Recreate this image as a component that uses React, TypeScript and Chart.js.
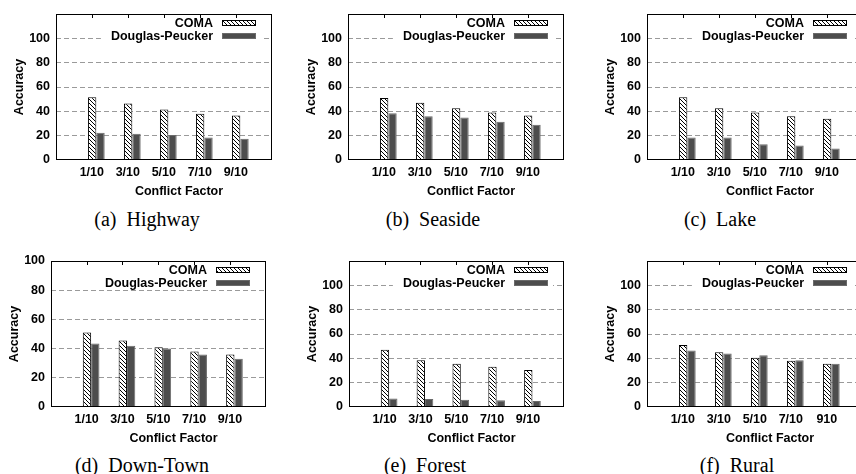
import React, { useEffect, useRef } from 'react';
import { Chart, registerables } from 'chart.js';
Chart.register(...registerables);

// ---------- data ----------
const seriesNames = ['COMA', 'Douglas-Peucker'];
const factorLabels = ['1/10', '3/10', '5/10', '7/10', '9/10'];
const ruralLabels = ['1/10', '3/10', '5/10', '7/10', '910'];
const yTicks = [0, 20, 40, 60, 80, 100];

const highwayComa = [51.5, 46.5, 41.5, 38, 36.5];
const highwayDP = [22.5, 21.5, 20.5, 18.5, 17.5];
const seasideComa = [51, 47, 42.5, 39, 36.5];
const seasideDP = [38.5, 36, 35, 31.5, 29];
const lakeComa = [51.5, 42.5, 39, 36, 34];
const lakeDP = [18.5, 18.5, 13, 12, 9.5];
const downtownComa = [51, 45.5, 41, 38, 36];
const downtownDP = [43.5, 42, 40, 36, 33];
const forestComa = [47, 38.5, 35.5, 33, 30.5];
const forestDP = [7, 6.5, 6, 5.5, 5];
const ruralComa = [51, 45, 40.5, 38, 35.5];
const ruralDP = [46.5, 44, 42.5, 38.5, 35.5];

const FAMILY = '"Liberation Sans", Arial, Helvetica, sans-serif';
const FS = 12.5;

type PanelDef = {
  caption: string;
  labels: string[];
  coma: number[];
  dp: number[];
  yMax: number;
  x1: number; x2: number; y1: number; y2: number;
  cx: number; cy: number;
};

const panels: PanelDef[] = [
  { caption: '(a)\u2002Highway', labels: factorLabels, coma: highwayComa, dp: highwayDP, yMax: 120, x1: 56, x2: 272, y1: 14, y2: 160, cx: 147, cy: 219 },
  { caption: '(b)\u2002Seaside', labels: factorLabels, coma: seasideComa, dp: seasideDP, yMax: 120, x1: 348, x2: 564, y1: 14, y2: 160, cx: 433, cy: 219 },
  { caption: '(c)\u2002Lake', labels: factorLabels, coma: lakeComa, dp: lakeDP, yMax: 120, x1: 647, x2: 863, y1: 14, y2: 160, cx: 720, cy: 219 },
  { caption: '(d)\u2002Down-Town', labels: factorLabels, coma: downtownComa, dp: downtownDP, yMax: 100, x1: 51, x2: 266, y1: 261, y2: 407, cx: 142, cy: 465 },
  { caption: '(e)\u2002Forest', labels: factorLabels, coma: forestComa, dp: forestDP, yMax: 120, x1: 349, x2: 564, y1: 261, y2: 407, cx: 425, cy: 465 },
  { caption: '(f)\u2002Rural', labels: ruralLabels, coma: ruralComa, dp: ruralDP, yMax: 120, x1: 647, x2: 863, y1: 261, y2: 407, cx: 737, cy: 465 },
];

const PAD_L = 50, PAD_T = 14, PAD_R = 10, PAD_B = 45;
const DP_FILL = '#4d4d4d';
const DP_BORDER = '#6a6a6a';

function makeHatch(): CanvasPattern | string {
  const s = 4;
  const c = document.createElement('canvas');
  c.width = s; c.height = s;
  const g = c.getContext('2d');
  if (!g) return '#fff';
  g.fillStyle = '#fff';
  g.fillRect(0, 0, s, s);
  g.strokeStyle = '#000';
  g.lineWidth = 1;
  for (const k of [-s, 0, s]) {
    g.beginPath();
    g.moveTo(k, 0);
    g.lineTo(k + s, s);
    g.stroke();
  }
  const p = g.createPattern(c, 'repeat');
  return p || '#fff';
}

function Panel({ def }: { def: PanelDef }) {
  const ref = useRef<HTMLCanvasElement | null>(null);
  const width = def.x2 - def.x1 + PAD_L + PAD_R;
  const height = def.y2 - def.y1 + PAD_T + PAD_B;

  useEffect(() => {
    if (!ref.current) return;
    const hatch = makeHatch();
    const font = { family: FAMILY, size: FS, weight: 'bold' as const };
    const labels = def.labels;

    const framePlugin = {
      id: 'frame',
      afterDraw(chart: any) {
        const { ctx, chartArea } = chart;
        const { left, right, top, bottom } = chartArea;
        const xs = chart.scales.x;
        ctx.save();
        ctx.font = `bold ${FS}px ${FAMILY}`;
        const dpW = ctx.measureText(seriesNames[1]).width;
        const textRight = right - 59;
        // legend background
        ctx.fillStyle = '#fff';
        const bl = textRight - dpW - 10;
        ctx.fillRect(bl, top + 1, right - 11 - bl, 27);
        // legend text
        ctx.fillStyle = '#000';
        ctx.textAlign = 'right';
        ctx.textBaseline = 'middle';
        const r1 = top + 9.5, r2 = top + 22.5;
        ctx.fillText(seriesNames[0], textRight, r1);
        ctx.fillText(seriesNames[1], textRight, r2);
        // samples
        const sx = right - 50, sw = 34, sh = 6;
        ctx.fillStyle = hatch as any;
        ctx.fillRect(sx, Math.round(r1 - 3.5), sw, sh);
        ctx.strokeStyle = '#000';
        ctx.lineWidth = 1;
        ctx.strokeRect(sx + 0.5, Math.round(r1 - 3.5) + 0.5, sw - 1, sh - 1);
        ctx.fillStyle = DP_FILL;
        ctx.fillRect(sx, Math.round(r2 - 3.5), sw, sh);
        ctx.strokeStyle = DP_BORDER;
        ctx.strokeRect(sx + 0.5, Math.round(r2 - 3.5) + 0.5, sw - 1, sh - 1);
        // frame
        ctx.strokeStyle = '#000';
        ctx.lineWidth = 1;
        ctx.strokeRect(left + 0.5, top + 0.5, right - left - 1, bottom - top - 1);
        // mirror ticks on top
        ctx.beginPath();
        labels.forEach((_, i) => {
          const x = Math.round(xs.getPixelForValue(i) - 4.5) + 0.5;
          ctx.moveTo(x, top);
          ctx.lineTo(x, top + 4);
        });
        ctx.stroke();
        // axis titles
        ctx.fillStyle = '#000';
        ctx.textAlign = 'center';
        ctx.textBaseline = 'middle';
        ctx.fillText('Conflict Factor', (left + right) / 2 + 15, bottom + 32);
        ctx.translate(left - 36.5, (top + bottom) / 2);
        ctx.rotate(-Math.PI / 2);
        ctx.fillText('Accuracy', 0, 0);
        ctx.restore();
      },
    };

    const chart = new Chart(ref.current, {
      type: 'bar',
      data: {
        datasets: [
          {
            label: seriesNames[0],
            data: def.coma.map((v, i) => ({ x: i, y: v })),
            backgroundColor: hatch as any,
            borderColor: '#000',
            borderWidth: 1,
            categoryPercentage: 0.465,
            barPercentage: 1,
          },
          {
            label: seriesNames[1],
            data: def.dp.map((v, i) => ({ x: i, y: v })),
            backgroundColor: DP_FILL,
            borderColor: DP_BORDER,
            borderWidth: 1,
            categoryPercentage: 0.465,
            barPercentage: 1,
          },
        ],
      },
      options: {
        animation: false,
        responsive: false,
        maintainAspectRatio: false,
        layout: { padding: { left: 0, top: PAD_T, right: PAD_R, bottom: 0 } },
        plugins: { legend: { display: false }, tooltip: { enabled: false } },
        scales: {
          x: {
            type: 'linear',
            offset: false,
            min: -1.12,
            max: 4.88,
            grid: { display: false, drawTicks: false, offset: false },
            border: { display: false },
            afterBuildTicks: (ax: any) => {
              ax.ticks = labels.map((_, i) => ({ value: i }));
            },
            afterFit: (s: any) => { s.height = PAD_B; },
            ticks: {
              callback: (v: any) => labels[v] ?? '',
              labelOffset: -4.5,
              padding: 5,
              maxRotation: 0,
              autoSkip: false,
              font,
              color: '#000',
            },
          },
          y: {
            min: 0,
            max: def.yMax,
            afterBuildTicks: (ax: any) => {
              ax.ticks = yTicks.map((v) => ({ value: v }));
            },
            afterFit: (s: any) => { s.width = PAD_L; },
            grid: {
              drawTicks: false,
              color: (c: any) => (c.tick && c.tick.value === 0 ? 'rgba(0,0,0,0)' : '#9a9a9a'),
              lineWidth: 1,
            },
            border: { display: false, dash: [5, 3] },
            ticks: { padding: 6, font, color: '#000' },
          },
        },
      } as any,
      plugins: [framePlugin],
    });
    return () => chart.destroy();
  }, [def]);

  return (
    <>
      <canvas
        ref={ref}
        width={width}
        height={height}
        style={{ position: 'absolute', left: def.x1 - PAD_L, top: def.y1 - PAD_T, width, height }}
      />
      <div
        style={{
          position: 'absolute',
          left: def.cx,
          top: def.cy,
          transform: 'translate(-50%, -50%)',
          whiteSpace: 'pre',
          font: '20px "Liberation Serif", "Times New Roman", serif',
          color: '#000',
        }}
      >
        {def.caption}
      </div>
    </>
  );
}

export default function App() {
  return (
    <div
      style={{
        position: 'fixed',
        left: 0,
        top: 0,
        width: 856,
        height: 474,
        overflow: 'hidden',
        background: '#fff',
      }}
    >
      {panels.map((p, i) => (
        <Panel key={i} def={p} />
      ))}
    </div>
  );
}
